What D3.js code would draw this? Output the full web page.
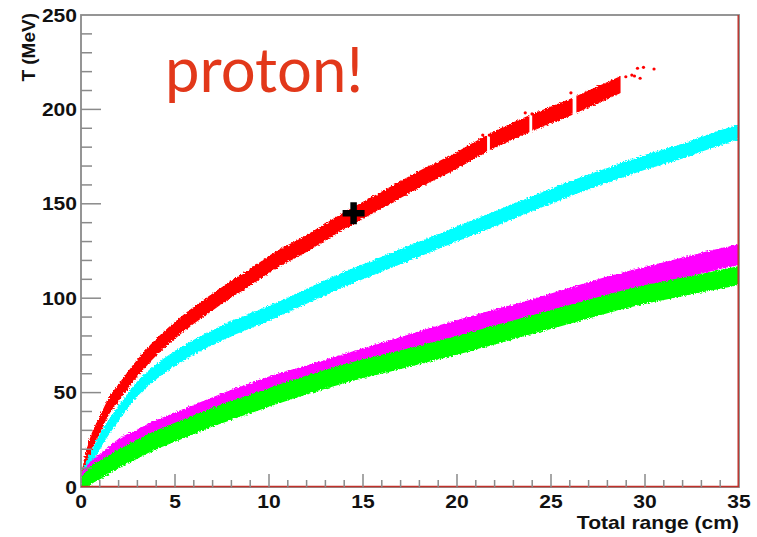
<!DOCTYPE html>
<html>
<head>
<meta charset="utf-8">
<script src="https://cdn.jsdelivr.net/npm/d3@7"></script>
<style>
  body { margin: 0; background: #fff; }
  svg { display: block; }
</style>
</head>
<body>
<div id="chart"></div>
<script>
// range grid (cm) and band centres (MeV)
var rangeCm = [0, 0.25, 0.5, 1, 1.5, 2, 3, 4, 5, 6, 7, 8, 9, 10, 12, 14, 16, 18, 20, 22, 24, 26, 28, 30, 32, 34, 35];
var redT     = [1, 14, 22, 33, 43, 50, 63, 74, 83, 91, 98, 105, 111, 118, 129, 141, 152, 163, 173, 184, 193, 201, 210, 219, null, null, null];
var cyanT    = [1, 9, 14, 24, 32, 39, 52, 61, 68, 74, 79, 84, 88, 92, 101, 110, 118, 126, 134, 142, 150, 158, 165, 172, 178, 185, 188];
var magentaT = [1, 5, 8, 12, 16, 20, 25, 30, 34, 38, 42, 46, 49.5, 53, 59, 65, 71, 77, 83, 88.5, 94, 100, 106, 111, 116, 121, 123];
var greenT   = [0, 3, 6, 9, 12, 15, 20, 25, 29, 33, 37, 40.5, 44, 47.5, 54, 60, 65, 70, 75, 80.5, 86, 91.5, 97, 102, 106, 110, 112];
// half spread of each band (MeV)
var redSpread = 4.5, cyanSpread = 4, magentaSpread = 5.5, greenSpread = 5;
// the red band breaks into clumps at the top end (cm)
var redSegments = [[0, 21.6], [21.75, 23.85], [24.0, 26.15], [26.35, 28.7]];
// stray red points at the top end [range, T]
var redStray = [[28.98, 217.3], [29.3, 218.2], [29.44, 217.7], [29.6, 221.8], [29.92, 222.3], [30.48, 221.4],
                [29.74, 216.5], [26.06, 208.8], [23.63, 198.2], [23.99, 197.6], [21.37, 186.4], [21.72, 186.4]];
var markPoint = [14.5, 145];

var xTicks = [0, 5, 10, 15, 20, 25, 30, 35];
var yTicks = [0, 50, 100, 150, 200, 250];

var W = 757, H = 537;
var margin = {top: 15, right: 18, bottom: 50, left: 81},
    width = W - margin.left - margin.right,
    height = H - margin.top - margin.bottom;

var svg = d3.select("#chart").append("svg")
    .attr("width", W).attr("height", H);

var x = d3.scaleLinear().domain([0, 35]).range([margin.left, margin.left + width]);
var y = d3.scaleLinear().domain([0, 250]).range([margin.top + height, margin.top]);

var defs = svg.append("defs");
defs.append("clipPath").attr("id", "plotclip")
  .append("rect").attr("x", margin.left).attr("y", margin.top)
    .attr("width", width).attr("height", height);
defs.append("clipPath").attr("id", "redclip")
  .selectAll("rect").data(redSegments).enter().append("rect")
    .attr("x", function(d) { return x(d[0]); })
    .attr("width", function(d) { return x(d[1]) - x(d[0]); })
    .attr("y", margin.top).attr("height", height);
// roughens the band edges so they look like scattered dots
var f = defs.append("filter").attr("id", "rough")
    .attr("x", "-5%").attr("y", "-5%").attr("width", "110%").attr("height", "110%");
f.append("feTurbulence").attr("type", "fractalNoise").attr("baseFrequency", 0.6)
  .attr("numOctaves", 2).attr("seed", 3).attr("result", "noise");
f.append("feDisplacementMap").attr("in", "SourceGraphic").attr("in2", "noise")
  .attr("scale", 4).attr("xChannelSelector", "R").attr("yChannelSelector", "G");

var plot = svg.append("g").attr("clip-path", "url(#plotclip)");

function band(vals, spread, color, clip) {
  var pts = rangeCm.map(function(r, i) { return {r: r, t: vals[i]}; })
    .filter(function(d) { return d.t != null; });
  var area = d3.area()
    .curve(d3.curveMonotoneX)
    .x(function(d) { return x(d.r); })
    .y0(function(d) { return y(d.t - spread); })
    .y1(function(d) { return y(d.t + spread); });
  var g = plot.append("g");
  if (clip) g.attr("clip-path", "url(#" + clip + ")");
  g.append("path").datum(pts)
    .attr("d", area)
    .attr("fill", color)
    .attr("filter", "url(#rough)");
}

band(redT, redSpread, "#ff0000", "redclip");
band(cyanT, cyanSpread, "#00ffff");
band(magentaT, magentaSpread, "#ff00ff");
band(greenT, greenSpread, "#00ff00");

plot.append("g").selectAll("circle").data(redStray).enter().append("circle")
  .attr("cx", function(d) { return x(d[0]); })
  .attr("cy", function(d) { return y(d[1]); })
  .attr("r", 1.6).attr("fill", "#ff0000");

// black cross marker
var mx = x(markPoint[0]), my = y(markPoint[1]);
svg.append("path")
  .attr("d", "M" + (mx - 11) + "," + my + "H" + (mx + 11) + "M" + mx + "," + (my - 11) + "V" + (my + 11))
  .attr("stroke", "#000").attr("stroke-width", 6.5);

// frame
var axisGray = "#8a8a8a", axisRed = "#c0302a";
svg.append("rect")
  .attr("x", margin.left).attr("y", margin.top)
  .attr("width", width).attr("height", height)
  .attr("fill", "none").attr("stroke", axisGray).attr("stroke-width", 1.8);
svg.append("line").attr("x1", margin.left).attr("x2", margin.left + width)
  .attr("y1", margin.top + height - 0.5).attr("y2", margin.top + height - 0.5)
  .attr("stroke", axisRed).attr("stroke-width", 1.4);
svg.append("line").attr("x1", margin.left + width - 0.8).attr("x2", margin.left + width - 0.8)
  .attr("y1", margin.top).attr("y2", margin.top + height)
  .attr("stroke", axisRed).attr("stroke-width", 1.4);

// ticks, drawn inward like ROOT
var ticks = svg.append("g").attr("stroke", axisGray).attr("stroke-width", 1.5);
d3.range(0, 35.01, 1).forEach(function(v) {
  var major = v % 5 === 0;
  if (v === 0 || v === 35) return;
  ticks.append("line").attr("x1", x(v)).attr("x2", x(v))
    .attr("y1", y(0)).attr("y2", y(0) - (major ? 13 : 7));
});
d3.range(0, 250.01, 10).forEach(function(v) {
  var major = v % 50 === 0;
  if (v === 0 || v === 250) return;
  ticks.append("line").attr("x1", x(0)).attr("x2", x(0) + (major ? 20 : 11))
    .attr("y1", y(v)).attr("y2", y(v));
});

var font = "'Liberation Sans', Arial, Helvetica, sans-serif";
function label(txt, px, py, anchor, size) {
  svg.append("text")
    .attr("transform", "translate(" + px + "," + py + ") scale(1.17,1)")
    .attr("text-anchor", anchor)
    .style("font-family", font).style("font-weight", "bold")
    .style("font-size", (size || 18) + "px").attr("fill", "#111")
    .text(txt);
}
xTicks.forEach(function(v) { label(v, x(v), y(0) + 21, "middle"); });
yTicks.forEach(function(v) { label(v, x(0) - 4, y(v) + 6.5, "end"); });
label("Total range (cm)", margin.left + width, 529, "end");

svg.append("text")
  .attr("transform", "translate(35,13) rotate(-90)")
  .attr("text-anchor", "end")
  .style("font-family", font).style("font-weight", "bold")
  .style("font-size", "19px").attr("fill", "#111")
  .text("T (MeV)");

svg.append("text")
  .attr("x", 165).attr("y", 92)
  .attr("textLength", 198).attr("lengthAdjust", "spacingAndGlyphs")
  .style("font-family", "Lato, 'Open Sans', sans-serif")
  .style("font-size", "62px").attr("fill", "#e2381a")
  .text("proton!");
</script>
</body>
</html>
